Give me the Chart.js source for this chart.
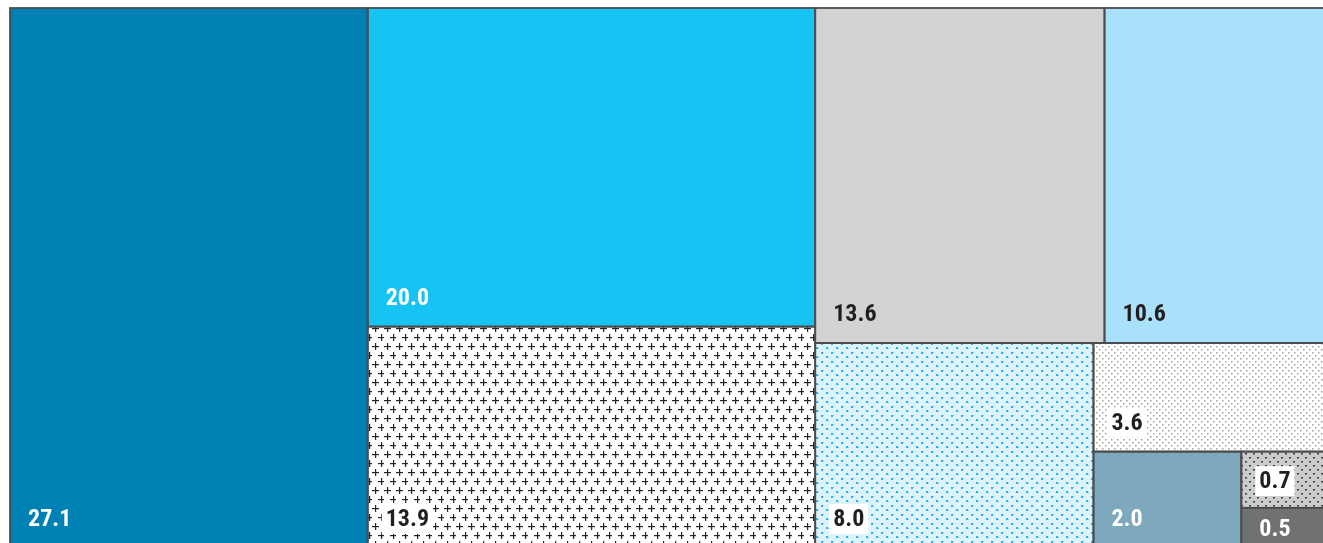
<!DOCTYPE html>
<html>
<head>
<meta charset="utf-8">
<script src="https://cdn.jsdelivr.net/npm/chart.js@4/dist/chart.umd.min.js"></script>
<style>
html,body{margin:0;padding:0;background:#ffffff;overflow:hidden}
#wrap{width:1323px;height:543px;position:relative}
</style>
</head>
<body>
<div id="wrap"><canvas id="c" width="1323" height="543"></canvas></div>
<script>
// ---- data ----
const categories = ['A', 'B', 'C', 'D', 'E', 'F', 'G', 'H', 'I', 'J'];
const values = [27.1, 20.0, 13.9, 13.6, 10.6, 8.0, 3.6, 2.0, 0.7, 0.5];
const valueLabels = ['27.1', '20.0', '13.9', '13.6', '10.6', '8.0', '3.6', '2.0', '0.7', '0.5'];
// grouping of the treemap: 'h' = side by side, 'v' = stacked (indices into values)
const layoutTree = ['h', 0, ['v', 1, 2], ['v', ['h', 3, 4], ['h', 5, ['v', 6, ['h', 7, ['v', 8, 9]]]]]];

// ---- styles ----
const fills = ['#0081B4', '#17C3F2', 'plus', '#D1D3D4', '#A9E0FA', 'blueDots', 'grayDots', '#7EA9BC', 'darkDots', '#707173'];
const textColors = ['#ffffff', '#ffffff', '#231F20', '#231F20', '#231F20', '#231F20', '#231F20', '#ffffff', '#231F20', '#ffffff'];
const labelBox = [false, false, true, false, false, true, true, false, true, false];

function subtreeSum(node) {
  if (typeof node === 'number') return values[node];
  return node.slice(1).reduce((s, k) => s + subtreeSum(k), 0);
}
function layout(node, x0, y0, x1, y1, out) {
  if (typeof node === 'number') { out[node] = {x0, y0, x1, y1}; return out; }
  const dir = node[0], kids = node.slice(1);
  const total = kids.reduce((s, k) => s + subtreeSum(k), 0);
  let pos = dir === 'h' ? x0 : y0;
  for (const k of kids) {
    const f = subtreeSum(k) / total;
    if (dir === 'h') { const w = (x1 - x0) * f; layout(k, pos, y0, pos + w, y1, out); pos += w; }
    else { const h = (y1 - y0) * f; layout(k, x0, pos, x1, pos + h, out); pos += h; }
  }
  return out;
}
const cells = layout(layoutTree, 0, 0, 100, 100, []);

function makePattern(kind) {
  const c = document.createElement('canvas');
  const g = c.getContext('2d');
  if (kind === 'plus') {
    c.width = 12; c.height = 18;
    g.fillStyle = '#ffffff'; g.fillRect(0, 0, 12, 18);
    g.fillStyle = '#262626';
    [[3, 4], [9, 13]].forEach(([x, y]) => {
      g.fillRect(x - 3, y, 7, 1.2);
      g.fillRect(x, y - 3, 1.2, 7);
    });
  } else if (kind === 'blueDots') {
    c.width = 10; c.height = 9;
    g.fillStyle = '#DDF3FC'; g.fillRect(0, 0, 10, 9);
    g.fillStyle = '#2FB3EA';
    g.fillRect(1, 1, 2, 2); g.fillRect(6, 5, 2, 2);
    g.fillStyle = '#7FD0F3';
    g.fillRect(3, 1, 1, 1); g.fillRect(8, 6, 1, 1);
  } else if (kind === 'grayDots') {
    c.width = 6; c.height = 6;
    g.fillStyle = '#ffffff'; g.fillRect(0, 0, 6, 6);
    g.fillStyle = '#a0a0a0';
    g.fillRect(1, 1, 1.5, 1.5); g.fillRect(4, 4, 1.5, 1.5);
  } else if (kind === 'darkDots') {
    c.width = 8; c.height = 8;
    g.fillStyle = '#CBCCCD'; g.fillRect(0, 0, 8, 8);
    g.fillStyle = '#3c3c3c';
    g.fillRect(1, 1, 2, 1.5); g.fillRect(5, 5, 2, 1.5);
  }
  return c;
}

const treemapPlugin = {
  id: 'treemapCells',
  afterDatasetsDraw(chart) {
    const ctx = chart.ctx;
    const xs = chart.scales.x, ys = chart.scales.y;
    const pats = {};
    ['plus', 'blueDots', 'grayDots', 'darkDots'].forEach(k => pats[k] = ctx.createPattern(makePattern(k), 'repeat'));
    const px = cells.map(r => ({
      l: xs.getPixelForValue(r.x0), r: xs.getPixelForValue(r.x1),
      t: ys.getPixelForValue(r.y0), b: ys.getPixelForValue(r.y1)
    }));
    ctx.save();
    px.forEach((p, i) => {
      ctx.fillStyle = pats[fills[i]] || fills[i];
      ctx.fillRect(p.l, p.t, p.r - p.l, p.b - p.t);
    });
    ctx.strokeStyle = '#4b4c4e';
    ctx.lineWidth = 1.8;
    px.forEach(p => ctx.strokeRect(p.l, p.t, p.r - p.l, p.b - p.t));
    // labels
    ctx.font = 'bold 24px "Liberation Sans Narrow", "Arial Narrow", "Roboto Condensed", sans-serif';
    ctx.textBaseline = 'alphabetic';
    ctx.textAlign = 'left';
    px.forEach((p, i) => {
      const txt = valueLabels[i];
      const w = ctx.measureText(txt).width;
      const x = p.l + 18;
      const cy = (p.t + p.b) / 2;
      const y = Math.max(p.b - 22, cy + 8.5);
      if (labelBox[i]) {
        ctx.fillStyle = '#ffffff';
        ctx.fillRect(x - 4, y - 22, w + 8, 30);
      }
      ctx.fillStyle = textColors[i];
      ctx.fillText(txt, x, y);
    });
    ctx.restore();
  }
};

new Chart(document.getElementById('c'), {
  type: 'scatter',
  data: {
    labels: categories,
    datasets: [{
      label: 'share',
      data: cells.map(r => ({x: (r.x0 + r.x1) / 2, y: (r.y0 + r.y1) / 2})),
      pointRadius: 0,
      pointHoverRadius: 0
    }]
  },
  options: {
    responsive: false,
    animation: false,
    devicePixelRatio: 1,
    layout: {padding: {left: 10, top: 8, right: 0, bottom: 0}},
    plugins: {legend: {display: false}, tooltip: {enabled: false}},
    scales: {
      x: {type: 'linear', min: 0, max: 100 * 1313 / 1320, display: false},
      y: {type: 'linear', min: 0, max: 100 * 535 / 540, reverse: true, display: false}
    }
  },
  plugins: [treemapPlugin]
});
</script>
</body>
</html>
